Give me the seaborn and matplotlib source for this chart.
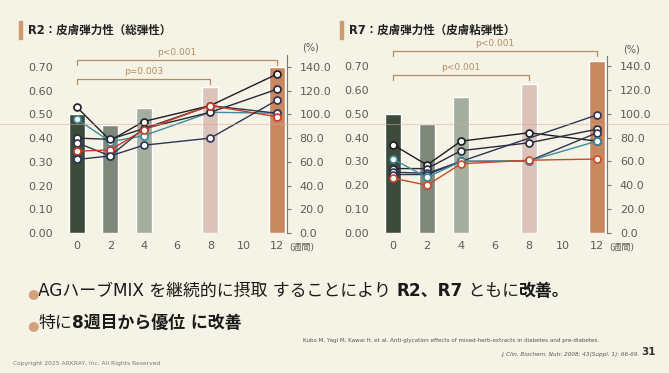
import matplotlib
matplotlib.use("Agg")
import matplotlib.pyplot as plt
from matplotlib.lines import Line2D
from matplotlib.patches import Rectangle
import seaborn as sns
import pandas as pd

sns.set_style("white")
plt.rcParams['font.family'] = ['DejaVu Sans', 'Noto Sans CJK JP']

# ---- data ----
weeks = [0, 2, 4, 8, 12]
week_ticks = [0, 2, 4, 6, 8, 10, 12]
left_ticks = [0.0, 0.1, 0.2, 0.3, 0.4, 0.5, 0.6, 0.7]
right_ticks = [0, 20, 40, 60, 80, 100, 120, 140]

# bars (% of baseline, right axis)
r2_bar = [100, 91, 105, 123, 140]
r7_bar = [100, 91, 114, 125, 144]
bar_colors = ['#3c4a3b', '#7d887a', '#a4ae9f', '#dcc3ba', '#c8875e']

# individual subjects (left axis)
r2_weeks = [weeks, weeks, weeks, weeks, weeks, weeks]
r2_lines = [
    [0.53, 0.39, 0.47, 0.537, 0.67],
    [0.48, 0.385, 0.41, 0.509, 0.505],
    [0.40, 0.395, 0.44, 0.509, 0.606],
    [0.38, 0.325, 0.44, 0.537, 0.505],
    [0.345, 0.35, 0.435, 0.537, 0.49],
    [0.31, 0.325, 0.37, 0.40, 0.56],
]
r2_colors = ['#1c1c22', '#3d8c9c', '#262a3a', '#2e3552', '#cc3a26', '#2e3552']

r7_weeks = [weeks, weeks, [0, 2, 4, 12], weeks, weeks, weeks]
r7_lines = [
    [0.37, 0.285, 0.385, 0.42, 0.385],
    [0.27, 0.27, 0.345, 0.378, 0.435],
    [0.255, 0.25, 0.30, 0.495],
    [0.245, 0.245, 0.30, 0.302, 0.42],
    [0.31, 0.233, 0.30, 0.302, 0.385],
    [0.23, 0.20, 0.29, 0.305, 0.31],
]
r7_colors = ['#1c1c22', '#262a3a', '#2e3552', '#2e3552', '#3d8c9c', '#cc4a26']

bg = '#f5f3e6'
gray = '#5a5a5a'
bracket = '#b48c62'

fig = plt.figure(figsize=(6.69, 3.73), dpi=100, facecolor=bg)


def panel(rect, bars, xs_list, lines, colors, ytop, unit_x, brackets):
    ax = fig.add_axes(rect)
    ax2 = ax.twinx()
    df = pd.DataFrame({'week': weeks, 'pct': bars})
    sns.barplot(data=df, x='week', y='pct', hue='week', native_scale=True,
                palette=dict(zip(weeks, bar_colors)), width=0.48, dodge=False,
                legend=False, ax=ax2, saturation=1)
    for xs, ys, c in zip(xs_list, lines, colors):
        sns.lineplot(x=xs, y=ys, color=c, lw=1.0, marker='o', markersize=5,
                     markerfacecolor='white', markeredgecolor=c,
                     markeredgewidth=1.2, ax=ax)
    # lines above the bars
    ax.set_zorder(ax2.get_zorder() + 1)
    ax.patch.set_visible(False)
    ax2.patch.set_visible(False)

    ax.set_xlim(-0.6, 12.6)
    ax.set_ylim(0, ytop)
    ax2.set_ylim(0, ytop * 200)
    ax.set_xticks(week_ticks)
    ax.set_yticks(left_ticks)
    ax.set_yticklabels([f'{v:.2f}' for v in left_ticks])
    ax2.set_yticks(right_ticks)
    ax2.set_yticklabels([f'{v:.1f}' for v in right_ticks])
    for a in (ax, ax2):
        a.set_xlabel('')
        a.set_ylabel('')
    ax.tick_params(axis='x', length=0, pad=6, labelsize=8, labelcolor=gray)
    ax.tick_params(axis='y', length=0, pad=10, labelsize=8, labelcolor=gray)
    ax2.tick_params(axis='y', length=3, width=0.8, color='#777777', pad=6,
                    labelsize=8, labelcolor=gray)
    for s in ax.spines.values():
        s.set_visible(False)
    for k, s in ax2.spines.items():
        s.set_visible(k == 'right')
    ax2.spines['right'].set_color('#777777')
    ax2.spines['right'].set_linewidth(0.8)

    ax.text(14.0, ytop + 0.01, '(%)', fontsize=7, color=gray,
            ha='center', va='bottom', clip_on=False)
    ax.text(unit_x, -0.059, '(週間)', fontsize=6.5, color=gray,
            ha='left', va='center', clip_on=False)

    for x1, y, label in brackets:
        ax.plot([0, 0, x1, x1], [y - 0.022, y, y, y - 0.022], color=bracket,
                lw=0.9, clip_on=False)
        ax.text(x1 / 2, y + 0.012, label, color=bracket, fontsize=6.5,
                ha='center', va='bottom', clip_on=False)
    return ax


panel([0.1001, 0.3753, 0.3289, 0.477], r2_bar, r2_weeks, r2_lines, r2_colors,
      0.75, 12.75, [(12, 0.73, 'p<0.001'), (8, 0.65, 'p=0.003')])
panel([0.5722, 0.3753, 0.3356, 0.4735], r7_bar, r7_weeks, r7_lines, r7_colors,
      0.74, 12.7, [(12, 0.764, 'p<0.001'), (8, 0.662, 'p<0.001')])

# faint pink line across the slide (photo artefact)
fig.add_artist(Line2D([0, 1], [1 - 124 / 373] * 2, color='#e0a890', lw=0.8,
                      alpha=0.5, transform=fig.transFigure))

# panel titles
for x0, title in [(19, 'R2：皮膚弾力性（総弾性）'), (340, 'R7：皮膚弾力性（皮膚粘弾性）')]:
    fig.add_artist(Rectangle((x0 / 669, 1 - 39 / 373), 3 / 669, 18 / 373,
                             color='#d09a70', transform=fig.transFigure))
    fig.text((x0 + 9) / 669, 1 - 30 / 373, title, fontsize=8.3,
             fontweight='bold', color='#222222', va='center')


def chain(x, y, parts):
    # write text pieces one after the other on the same line
    prev = None
    for s, w, c, fs in parts:
        if prev is None:
            prev = fig.text(x, y, s, fontsize=fs, fontweight=w, color=c,
                            va='baseline', ha='left')
        else:
            prev = fig.axes[0].annotate(s, xy=(1, 0), xycoords=prev,
                                        fontsize=fs, fontweight=w, color=c,
                                        va='bottom', ha='left',
                                        annotation_clip=False)


dark = '#1a1a1a'
bullet = '#d4a27c'
fs = 12.2
chain(27 / 669, 1 - 297 / 373, [
    ('●', 'normal', bullet, 9.5),
    ('AGハーブMIX を継続的に摂取 することにより ', 'normal', dark, fs),
    ('R2、R7', 'bold', dark, fs),
    (' ともに', 'normal', dark, fs),
    ('改善。', 'bold', dark, fs),
])
chain(27 / 669, 1 - 329 / 373, [
    ('●', 'normal', bullet, 9.5),
    ('特に', 'normal', dark, fs),
    ('8週目から優位 に改善', 'bold', dark, fs),
])

fig.text(13 / 669, 1 - 365 / 373, 'Copyright 2025 ARKRAY, Inc. All Rights Reserved',
         fontsize=4.3, color='#777777', va='baseline')
fig.text(303 / 669, 1 - 342 / 373,
         'Kubo M, Yagi M, Kawai H, et al. Anti-glycation effects of mixed-herb-extracts in diabetes and pre-diabetes.',
         fontsize=4.1, color='#555555', va='baseline')
t31 = fig.text(656 / 669, 1 - 355 / 373, '31', fontsize=7.5, fontweight='bold',
               color='#333333', ha='right', va='baseline')
fig.axes[0].annotate('J. Clin. Biochem. Nutr. 2008; 43(Suppl. 1): 66-69. ', xy=(0, 0),
                     xycoords=t31, fontsize=4.1, color='#555555', style='italic',
                     ha='right', va='bottom', annotation_clip=False)

fig.savefig('out.png', dpi=100, facecolor=bg)
